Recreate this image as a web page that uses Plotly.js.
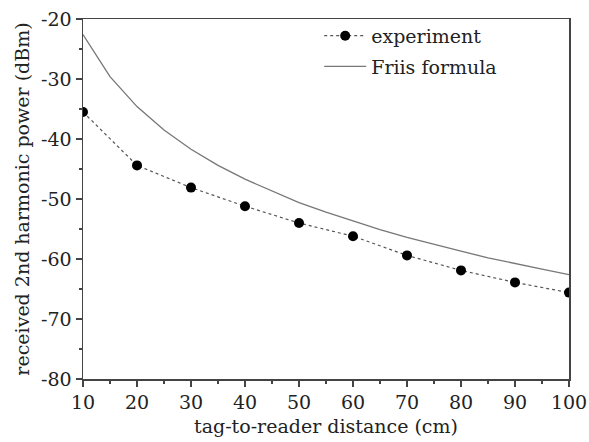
<!DOCTYPE html>
<html>
<head>
<meta charset="utf-8">
<script src="https://cdn.plot.ly/plotly-3.0.1.min.js"></script>
<style>html,body{margin:0;padding:0;background:#fff;}#chart{width:589px;height:442px;}</style>
</head>
<body>
<div id="chart"></div>
<script>
// Experiment (measured points)
const expDistance = [10, 20, 30, 40, 50, 60, 70, 80, 90, 100];
const expPower = [-35.5, -44.4, -48.1, -51.2, -54.0, -56.2, -59.4, -61.9, -63.9, -65.6];

// Friis formula curve
const friisDistance = [10, 15, 20, 25, 30, 35, 40, 45, 50, 55, 60, 65, 70, 75, 80, 85, 90, 95, 100];
const friisPower = [-22.6, -29.6, -34.6, -38.5, -41.7, -44.4, -46.7, -48.7, -50.6, -52.2, -53.7, -55.1, -56.4, -57.6, -58.7, -59.8, -60.8, -61.7, -62.6];

// Tick labels
const xTickVals = [10, 20, 30, 40, 50, 60, 70, 80, 90, 100];
const xTickText = ["10", "20", "30", "40", "50", "60", "70", "80", "90", "100"];
const yTickVals = [-80, -70, -60, -50, -40, -30, -20];
const yTickText = ["-80", "-70", "-60", "-50", "-40", "-30", "-20"];

const FONT = "DejaVu Serif, serif";
const FS = 19;

const traces = [
  {
    x: expDistance, y: expPower, name: "experiment", type: "scatter", mode: "lines+markers",
    legendgroup: "a",
    line: {color: "#555", width: 1.2, dash: "3px,3px"},
    marker: {color: "#000", size: 10, symbol: "circle"}
  },
  {
    x: friisDistance, y: friisPower, name: "Friis formula", type: "scatter", mode: "lines",
    legendgroup: "b",
    line: {color: "#777", width: 1.3}
  }
];

const axisCommon = {
  showgrid: false, zeroline: false, showline: true, linecolor: "#444", linewidth: 1.5,
  mirror: true, ticks: "outside", ticklen: 6, tickwidth: 1.3, tickcolor: "#444",
  tickfont: {family: FONT, size: FS, color: "#222"}
};

const layout = {
  width: 589, height: 442,
  margin: {l: 83, r: 20, t: 19, b: 63},
  paper_bgcolor: "#fff", plot_bgcolor: "#fff",
  font: {family: FONT, size: FS, color: "#222"},
  showlegend: true,
  legend: {x: 0.486, y: 1.006, xanchor: "left", yanchor: "top", bgcolor: "rgba(0,0,0,0)",
           itemwidth: 42, traceorder: "grouped", tracegroupgap: 3,
           font: {family: FONT, size: FS, color: "#222"}},
  xaxis: Object.assign({}, axisCommon, {
    range: [10, 100], tickvals: xTickVals, ticktext: xTickText,
    minor: {ticks: "outside", ticklen: 3, dtick: 5, tick0: 10, tickcolor: "#444", tickwidth: 1.2},
    title: {text: "tag-to-reader distance (cm)", font: {family: FONT, size: FS, color: "#222"}, standoff: 7}
  }),
  yaxis: Object.assign({}, axisCommon, {
    range: [-80, -20], tickvals: yTickVals, ticktext: yTickText,
    minor: {ticks: "outside", ticklen: 3, dtick: 5, tick0: -80, tickcolor: "#444", tickwidth: 1.2},
    title: {text: "received 2nd harmonic power (dBm)", font: {family: FONT, size: FS, color: "#222"}, standoff: 6}
  })
};

Plotly.newPlot("chart", traces, layout, {displayModeBar: false, staticPlot: true});
</script>
</body>
</html>
